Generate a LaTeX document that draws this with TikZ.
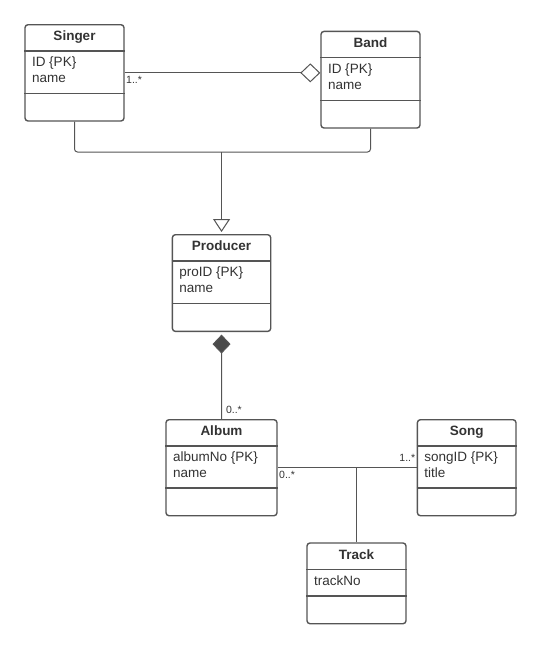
\documentclass[tikz,border=0pt]{standalone}
\usepackage{fontspec}
\setmainfont{Liberation Sans}
\usetikzlibrary{arrows.meta}
\definecolor{umlline}{HTML}{555555}
\definecolor{umltext}{HTML}{333333}
\definecolor{umlfill}{HTML}{4A4A4A}

\begin{document}
\begin{tikzpicture}[x=1pt, y=-1pt,
  box/.style={draw=umlline, line width=1.4pt, rounded corners=3pt, inner sep=0pt, anchor=north west},
  sep/.style={draw=umlline, line width=1.4pt},
  ctitle/.style={font=\fontsize{13.5}{16}\selectfont\bfseries, text=umltext, inner sep=0pt, anchor=base},
  cattr/.style={font=\fontsize{13.5}{16}\selectfont, text=umltext, align=left, inner sep=0pt, anchor=north west},
  link/.style={draw=umlline, line width=1pt},
  mult/.style={font=\fontsize{10.5}{12}\selectfont, text=umltext, inner sep=0pt}]
\useasboundingbox (0,0) rectangle (540,646);
\foreach \n/\x/\y/\w/\h/\t/\a in {
    singer/24.3/24/99/42.3/Singer/{ID \{PK\}\\name},
    band/320.3/30.7/99/42.6/Band/{ID \{PK\}\\name},
    producer/171.7/234/98.3/42.7/Producer/{proID \{PK\}\\name},
    album/165.3/419/111/42/Album/{albumNo \{PK\}\\name},
    song/416.7/419/98.6/42/Song/{songID \{PK\}\\title},
    track/306.3/542.3/99/26.7/Track/{trackNo}}
{
  \node[box, minimum width=\w, minimum height=54+\h] (\n) at (\x,\y) {};
  \draw[sep] ([yshift=-27pt]\n.north west) -- ([yshift=-27pt]\n.north east);
  \draw[sep] ([yshift=-27pt-\h*1pt]\n.north west) -- ([yshift=-27pt-\h*1pt]\n.north east);
  \node[ctitle] (\n-t) at ([yshift=-16.7pt]\n.north) {\t};
  \node[cattr] (\n-a) at ([xshift=7.5pt, yshift=-33pt]\n.north west) {\a};
}
\draw[link, -{Diamond[open, length=20pt, width=19pt]}] (singer.east) -- (singer.east -| band.west)
  node[mult, pos=0, anchor=north west, xshift=1pt, yshift=-3pt] {1..*};
\coordinate (gen) at (producer.north |- 0,152);
\draw[link, rounded corners=3pt] (singer.south) |- (gen) -| (band.south);
\draw[link, -{Triangle[open, length=13pt, width=17pt]}, shorten >=2pt] (gen) -- (producer.north);
\draw[link, {Diamond[length=19pt, width=18pt, fill=umlfill]}-, shorten <=2.5pt] (producer.south) -- (album.north)
  node[mult, pos=1, anchor=south west, xshift=4pt, yshift=5pt] {0..*};
\draw[link] (album.east) -- (song.west)
  node[mult, pos=0, anchor=north west, xshift=1pt, yshift=-3pt] {0..*}
  node[mult, pos=1, anchor=south east, xshift=-1pt, yshift=6pt] {1..*};
\draw[link] (track.north) -- (track.north |- album.east);
\end{tikzpicture}
\end{document}
